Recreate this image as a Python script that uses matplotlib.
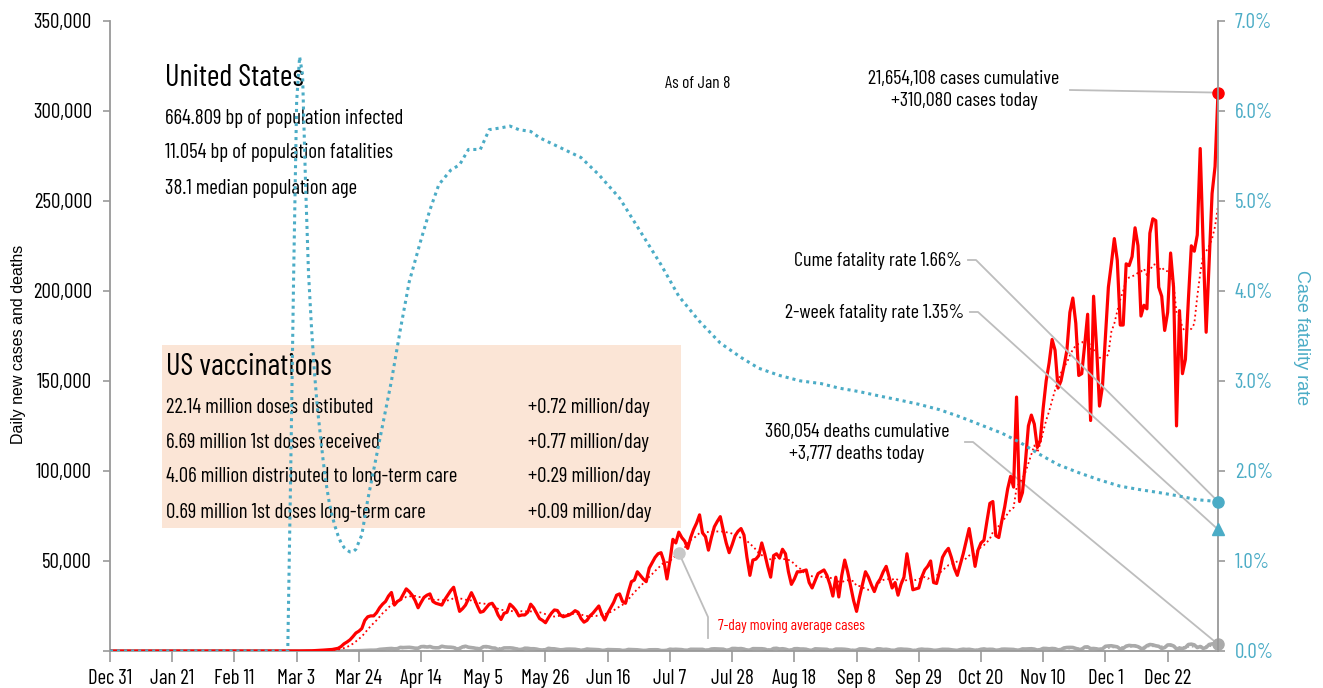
import matplotlib
matplotlib.use("Agg")
import matplotlib.pyplot as plt
import matplotlib.dates as mdates
from matplotlib import font_manager
from matplotlib.patches import Rectangle
import numpy as np
import pandas as pd

W, H = 1323, 688

# ---------------- data ----------------
start_date = "2019-12-31"
end_date = "2021-01-08"

# daily new cases, thousands; flat at zero from Dec 31 to Feb 29
cases_dec_feb = [0.0] * 61
cases_mar = [0.02, 0.02, 0.03, 0.03, 0.07, 0.1, 0.12, 0.12, 0.2, 0.3, 0.4, 0.5, 0.65, 0.75, 0.85, 1.2,
             1.5, 2.5, 4.0, 5.0, 6.2, 8.0, 10.0, 11.0, 12.5, 17.0, 19.0, 19.5, 19.5, 21.3, 24.0]
cases_apr = [26.0, 27.5, 30.5, 32.5, 25.5, 27.5, 28.5, 31.5, 34.5, 33.0, 31.0, 28.0, 24.0, 27.0, 29.8,
             31.0, 31.7, 27.5, 26.5, 26.0, 25.5, 28.5, 31.0, 33.5, 35.4, 28.5, 22.0, 23.5, 25.5, 29.0]
cases_may = [32.4, 29.0, 25.0, 21.5, 22.0, 24.0, 26.0, 26.5, 24.0, 20.0, 17.5, 20.9, 21.5, 26.0, 24.5,
             22.5, 19.5, 20.0, 20.0, 21.5, 26.0, 24.0, 21.0, 18.0, 17.0, 15.7, 18.5, 21.0, 22.8, 22.5, 20.0]
cases_jun = [19.0, 19.5, 20.0, 21.0, 22.4, 21.5, 18.0, 16.0, 17.0, 19.5, 21.0, 23.0, 25.0, 20.5, 17.2,
             21.0, 24.0, 27.0, 31.0, 31.7, 27.5, 26.5, 33.0, 38.5, 39.4, 44.0, 42.0, 40.0, 38.5, 46.0]
cases_jul = [49.0, 52.0, 54.0, 54.6, 49.6, 40.0, 50.0, 62.0, 60.0, 66.0, 63.0, 61.0, 57.0, 63.0, 67.5,
             71.0, 75.6, 65.6, 63.5, 56.0, 63.0, 69.0, 72.0, 74.6, 67.0, 60.0, 54.6, 59.0, 64.0, 66.5, 68.0]
cases_aug = [64.4, 52.0, 42.0, 50.5, 51.0, 53.0, 60.0, 54.0, 47.0, 41.0, 53.0, 54.0, 51.6, 56.5, 54.0,
             44.0, 37.0, 40.0, 44.0, 44.0, 44.5, 45.0, 38.0, 35.0, 39.0, 43.0, 44.0, 45.0, 42.0, 37.0, 30.5]
cases_sep = [41.0, 30.0, 42.0, 50.5, 44.0, 36.0, 28.0, 22.0, 30.0, 37.0, 44.0, 41.0, 36.7, 33.0, 37.5,
             40.0, 44.0, 47.0, 41.0, 35.0, 38.0, 31.0, 37.0, 41.0, 54.0, 44.0, 34.0, 34.5, 35.0, 41.0]
cases_oct = [45.0, 47.0, 50.0, 38.0, 37.5, 44.0, 52.0, 55.0, 57.0, 52.0, 46.0, 42.0, 48.0, 54.0, 61.0,
             68.0, 58.0, 47.0, 56.0, 60.0, 61.5, 72.0, 82.0, 83.0, 64.0, 63.0, 72.0, 80.0, 90.0, 97.0, 91.0]
cases_nov = [141.0, 83.0, 88.0, 105.0, 125.0, 131.0, 126.0, 113.0, 117.0, 135.0, 150.0, 160.0, 173.0,
             167.0, 146.0, 150.0, 158.0, 167.0, 188.0, 196.0, 182.0, 153.0, 154.0, 170.0, 187.0, 128.0,
             197.0, 169.0, 136.0, 147.0]
cases_dec = [175.0, 202.0, 215.0, 229.0, 217.0, 181.0, 181.0, 215.0, 214.0, 219.0, 235.0, 225.0, 186.0,
             192.0, 190.0, 232.0, 240.0, 239.0, 202.0, 197.0, 178.0, 188.0, 221.0, 202.0, 125.0, 189.0,
             154.0, 162.0, 195.0, 225.0, 222.0]
cases_jan = [231.0, 279.0, 225.0, 177.0, 215.0, 254.0, 269.0, 310.08]

# daily deaths, thousands
deaths_dec_feb = [0.0] * 61
deaths_mar = [0, 0.01, 0, 0, 0, 0, 0, 0, 0, 0.01, 0.01, 0.01, 0.01, 0.01, 0.01, 0.02, 0.02, 0.01, 0.08,
              0.04, 0.06, 0.12, 0.13, 0.15, 0.24, 0.27, 0.37, 0.45, 0.44, 0.51, 0.9]
deaths_apr = [1.05, 1.15, 1.3, 1.4, 1.2, 1.3, 2.0, 1.9, 1.95, 2.05, 1.85, 1.55, 1.55, 2.4, 2.5, 2.2, 2.5,
              1.9, 1.75, 1.8, 2.65, 2.3, 2.15, 2.1, 1.9, 1.15, 1.35, 2.3, 2.65, 2.1]
deaths_may = [1.9, 1.65, 1.25, 1.3, 2.35, 2.45, 2.2, 1.7, 1.6, 0.75, 1.05, 1.7, 1.75, 1.75, 1.6, 1.25,
              0.85, 0.8, 1.55, 1.5, 1.25, 1.25, 1.05, 0.65, 0.55, 0.7, 1.5, 1.25, 1.2, 0.95, 0.65]
deaths_jun = [0.75, 1.0, 1.05, 1.0, 0.95, 0.7, 0.4, 0.6, 1.1, 0.95, 0.9, 0.8, 0.7, 0.35, 0.4, 0.8, 0.75,
              0.7, 0.65, 0.6, 0.3, 0.4, 0.85, 0.8, 0.7, 0.65, 0.5, 0.3, 0.35, 0.65]
deaths_jul = [0.7, 0.7, 0.65, 0.25, 0.25, 0.4, 1.0, 0.85, 0.95, 0.85, 0.75, 0.45, 0.45, 0.95, 0.95, 0.95,
              0.95, 0.9, 0.45, 0.55, 1.1, 1.2, 1.15, 1.1, 1.0, 0.45, 0.6, 1.4, 1.4, 1.25, 1.35]
deaths_aug = [1.05, 0.45, 0.55, 1.3, 1.3, 1.25, 1.25, 1.05, 0.5, 0.55, 1.4, 1.5, 1.1, 1.25, 1.0, 0.5,
              0.45, 1.25, 1.3, 1.1, 1.1, 0.95, 0.4, 0.45, 1.2, 1.15, 1.05, 0.95, 0.9, 0.35, 0.45]
deaths_sep = [1.05, 1.05, 1.05, 0.95, 0.75, 0.4, 0.3, 0.45, 1.15, 1.15, 1.05, 0.7, 0.4, 0.45, 1.2, 1.15,
              0.85, 0.95, 0.7, 0.3, 0.45, 1.0, 1.1, 0.95, 0.9, 0.7, 0.3, 0.3, 0.85, 1.05]
deaths_oct = [0.85, 0.85, 0.7, 0.4, 0.4, 0.7, 0.95, 0.95, 0.9, 0.65, 0.45, 0.35, 0.75, 1.0, 0.85, 0.95,
              0.7, 0.4, 0.5, 0.95, 1.15, 0.85, 0.95, 0.9, 0.45, 0.5, 1.0, 1.05, 1.0, 1.0, 0.85]
deaths_nov = [0.45, 0.55, 1.15, 1.1, 1.2, 1.25, 1.05, 0.5, 0.75, 1.45, 1.4, 1.2, 1.4, 1.25, 0.65, 0.8,
              1.7, 1.95, 2.0, 1.95, 1.45, 0.9, 0.95, 2.2, 2.3, 1.3, 1.4, 1.2, 0.85, 1.2]
deaths_dec = [2.6, 2.8, 2.9, 2.6, 2.3, 1.1, 1.45, 2.7, 3.1, 2.9, 2.9, 2.4, 1.4, 1.5, 2.95, 3.6, 3.4, 2.9,
              2.6, 1.4, 1.9, 3.35, 3.4, 2.8, 1.15, 1.55, 1.4, 1.9, 3.6, 3.8, 3.4]
deaths_jan = [1.9, 2.5, 1.45, 1.95, 3.6, 3.95, 4.1, 3.777]

# cumulative case fatality rate (%), read at these dates
cfr_dates = ["2019-12-31", "2020-02-29", "2020-03-01", "2020-03-02", "2020-03-03", "2020-03-04",
             "2020-03-05", "2020-03-06", "2020-03-07", "2020-03-08", "2020-03-09", "2020-03-10",
             "2020-03-11", "2020-03-12", "2020-03-13", "2020-03-14", "2020-03-15", "2020-03-16",
             "2020-03-17", "2020-03-18", "2020-03-19", "2020-03-20", "2020-03-21", "2020-03-22",
             "2020-03-23", "2020-03-25", "2020-03-27", "2020-03-31", "2020-04-04", "2020-04-07",
             "2020-04-10", "2020-04-14", "2020-04-17", "2020-04-20", "2020-04-24", "2020-04-27",
             "2020-04-30", "2020-05-04", "2020-05-07", "2020-05-11", "2020-05-14", "2020-05-17",
             "2020-05-21", "2020-05-24", "2020-05-31", "2020-06-07", "2020-06-13", "2020-06-20",
             "2020-06-27", "2020-07-04", "2020-07-10", "2020-07-17", "2020-07-24", "2020-07-31",
             "2020-08-06", "2020-08-13", "2020-08-20", "2020-08-27", "2020-09-02", "2020-09-09",
             "2020-09-16", "2020-09-22", "2020-09-29", "2020-10-06", "2020-10-13", "2020-10-20",
             "2020-10-27", "2020-11-02", "2020-11-09", "2020-11-15", "2020-11-22", "2020-11-29",
             "2020-12-06", "2020-12-13", "2020-12-19", "2020-12-26", "2021-01-01", "2021-01-08"]
cfr_values = [0.0, 0.0, 2.0, 4.2, 6.1, 6.6, 6.4, 5.2, 4.2, 3.6, 3.1, 2.7, 2.4, 2.1, 1.85, 1.65, 1.5,
              1.38, 1.28, 1.2, 1.15, 1.12, 1.1, 1.1, 1.13, 1.29, 1.68, 2.34, 3.0, 3.57, 4.1, 4.57, 4.9,
              5.18, 5.34, 5.4, 5.57, 5.57, 5.79, 5.81, 5.83, 5.79, 5.77, 5.7, 5.59, 5.48, 5.29, 5.03,
              4.66, 4.29, 3.94, 3.66, 3.42, 3.26, 3.14, 3.06, 3.0, 2.97, 2.92, 2.88, 2.83, 2.79, 2.74,
              2.68, 2.6, 2.51, 2.42, 2.32, 2.18, 2.07, 1.98, 1.9, 1.83, 1.79, 1.76, 1.72, 1.68, 1.66]

two_week_cfr = 1.35
cases_cumulative = 21654108
deaths_cumulative = 360054

summary_lines = ["664.809 bp of population infected",
                 "11.054 bp of population fatalities",
                 "38.1 median population age"]
vacc_labels = ["22.14 million doses distibuted",
               "6.69 million 1st doses received",
               "4.06 million distributed to long-term care",
               "0.69 million 1st doses long-term care"]
vacc_rates = ["+0.72 million/day", "+0.77 million/day", "+0.29 million/day", "+0.09 million/day"]

# ---------------- styling ----------------
RED = "#ff0000"
BLUE = "#4bacc6"
GRAY = "#aaaaaa"
LINE_GRAY = "#bdbdbd"
SPINE = "#999999"
PEACH = "#fbe5d6"

names = {f.name for f in font_manager.fontManager.ttflist}
COND = next((n for n in ["Barlow Condensed", "Roboto Condensed", "Liberation Sans Narrow"] if n in names),
            "DejaVu Sans")
REG = "Liberation Sans" if "Liberation Sans" in names else "DejaVu Sans"

cases = pd.Series(np.concatenate([cases_dec_feb, cases_mar, cases_apr, cases_may, cases_jun, cases_jul,
                                  cases_aug, cases_sep, cases_oct, cases_nov, cases_dec, cases_jan]) * 1000,
                  index=pd.date_range(start_date, end_date, freq="D"))
deaths = pd.Series(np.concatenate([deaths_dec_feb, deaths_mar, deaths_apr, deaths_may, deaths_jun, deaths_jul,
                                   deaths_aug, deaths_sep, deaths_oct, deaths_nov, deaths_dec, deaths_jan]) * 1000,
                   index=cases.index)
cases_ma = cases.rolling(7).mean()
deaths_ma = deaths.rolling(7).mean()
cfr = pd.Series(cfr_values, index=pd.to_datetime(cfr_dates))


def fx(x):
    return x / W


def fy(y):
    return 1 - y / H


fig = plt.figure(figsize=(W / 100, H / 100), dpi=100)
ax = fig.add_axes([fx(110), 37 / H, 1108 / W, 630.3 / H])
ax2 = ax.twinx()

# text block and vaccination box sit under the lines
ax.add_patch(Rectangle((fx(162), fy(528)), fx(681) - fx(162), fy(345) - fy(528),
                       transform=fig.transFigure, color=PEACH, zorder=0.5, lw=0))


def label(x, y, s, size, ha="left", color="black", family=COND):
    ax.text(fx(x), fy(y), s, transform=fig.transFigure, fontsize=size, ha=ha, va="center",
            color=color, family=family, zorder=1)


label(165, 78, "United States", 22)
for i, s in enumerate(summary_lines):
    label(165, 118 + 35 * i, s, 15)
label(698, 84, "As of Jan 8", 12.5, ha="center")
label(166, 367, "US vaccinations", 22)
for i, (s, r) in enumerate(zip(vacc_labels, vacc_rates)):
    label(166, 407 + 35 * i, s, 15)
    label(528, 407 + 35 * i, r, 15)

ax.plot(deaths.index, deaths.values, color=GRAY, lw=2.6, zorder=2)
ax.plot(deaths_ma.index, deaths_ma.values, color=GRAY, lw=1.2, ls=":", zorder=2)
ax.plot(cases_ma.index, cases_ma.values, color=RED, lw=1.3, ls=":", zorder=3)
ax.plot(cases.index, cases.values, color=RED, lw=2.3, zorder=3)
ax2.plot(cfr.index, cfr.values, color=BLUE, lw=2.2, ls=(0, (1, 1.3)), zorder=2)

last = cases.index[-1]
ax.plot([last], [cases.iloc[-1]], "o", color=RED, ms=8, zorder=5, clip_on=False)
ax.plot([last], [deaths.iloc[-1]], "o", color=GRAY, ms=8, zorder=5, clip_on=False)
ax2.plot([last], [cfr.iloc[-1]], "o", color=BLUE, ms=8, zorder=5, clip_on=False)
ax2.plot([last], [two_week_cfr], "^", color=BLUE, ms=9, zorder=5, clip_on=False)
ma_point = pd.Timestamp("2020-07-10")
ax.plot([ma_point], [cases_ma[ma_point]], "o", color="#c8c8c8", ms=8, zorder=5)

# axes
ax.set_xlim(pd.Timestamp(start_date), last)
ax.set_ylim(0, 350000)
ax2.set_ylim(0, 7)
xticks = pd.date_range(start_date, end_date, freq="21D")
ax.set_xticks(xticks)
ax.set_xticklabels([f"{d:%b} {d.day}" for d in xticks], family=COND, fontsize=15)
yt = list(range(0, 350001, 50000))
ax.set_yticks(yt)
ax.set_yticklabels([""] + [f"{v:,}" for v in yt[1:]], family=COND, fontsize=15)
ax2.set_yticks(range(8))
ax2.set_yticklabels([f"{v:.1f}%" for v in range(8)], family=COND, fontsize=15, color=BLUE)
for a in (ax, ax2):
    for s in a.spines.values():
        s.set_color(SPINE)
        s.set_linewidth(1.3)
    a.spines["top"].set_visible(False)
ax.spines["right"].set_visible(False)
ax2.spines["left"].set_visible(False)
ax2.spines["bottom"].set_visible(False)
ax.tick_params(axis="x", length=8, width=1.2, color=SPINE, pad=5)
ax.tick_params(axis="y", length=5, width=1.2, color=SPINE, pad=8)
ax2.tick_params(axis="y", length=5, width=1.2, color=SPINE, pad=7)
ax.set_ylabel("Daily new cases and deaths", family=REG, fontsize=11.5)
ax.yaxis.set_label_coords(-0.076, 0.486)
ax2.set_ylabel("Case fatality rate", family=REG, fontsize=13, color=BLUE, rotation=270, va="bottom")
ax2.yaxis.set_label_coords(1.068, 0.498)


def to_data(a, x, y):
    return a.transData.inverted().transform((x, H - y))


def connector(a, points_px, target):
    pts = [to_data(a, x, y) for x, y in points_px]
    xs = [p[0] for p in pts] + [target[0]]
    ys = [p[1] for p in pts] + [target[1]]
    a.plot(xs, ys, color=LINE_GRAY, lw=1.3, zorder=1.5, clip_on=False)


lx = mdates.date2num(last)

# callouts
fig.text(fx(964), fy(90), f"{cases_cumulative:,} cases cumulative\n+{int(round(cases.iloc[-1])):,} cases today",
         ha="center", va="center", fontsize=14.5, family=COND, linespacing=1.3)
connector(ax, [(1070, 90)], (lx, cases.iloc[-1]))

fig.text(fx(962), fy(261), f"Cume fatality rate {cfr.iloc[-1]:.2f}%", ha="right", va="center",
         fontsize=14.5, family=COND)
connector(ax2, [(968, 260), (976, 260)], (lx, cfr.iloc[-1]))
fig.text(fx(964), fy(313), f"2-week fatality rate {two_week_cfr:.2f}%", ha="right", va="center",
         fontsize=14.5, family=COND)
connector(ax2, [(970, 312), (978, 312)], (lx, two_week_cfr))

fig.text(fx(857), fy(443), f"{deaths_cumulative:,} deaths cumulative\n+{int(round(deaths.iloc[-1])):,} deaths today",
         ha="center", va="center", fontsize=14.5, family=COND, linespacing=1.3)
connector(ax, [(965, 442), (973, 442)], (lx, deaths.iloc[-1]))

connector(ax, [(708, 638), (708, 617)], (mdates.date2num(ma_point), cases_ma[ma_point]))
fig.text(fx(718), fy(626), "7-day moving average cases", ha="left", va="center", fontsize=11,
         family=COND, color=RED)

fig.savefig("out.png", dpi=100)
